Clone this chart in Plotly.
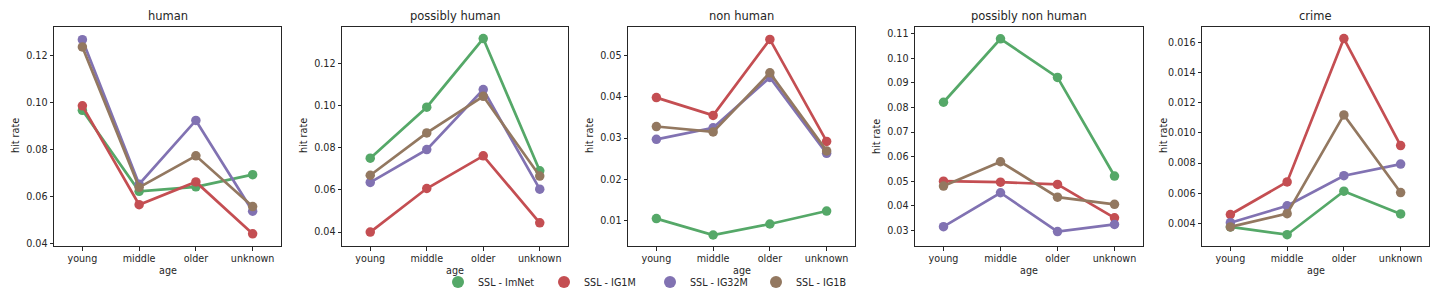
import plotly.graph_objects as go

ages = ["young", "middle", "older", "unknown"]
panels = ["human", "possibly human", "non human", "possibly non human", "crime"]
series = ["SSL - ImNet", "SSL - IG1M", "SSL - IG32M", "SSL - IG1B"]
colors = ["#55A868", "#C44E52", "#8172B2", "#937860"]

# hit rate values per panel, per series (young, middle, older, unknown)
human = {
    "SSL - ImNet": [0.0967, 0.0622, 0.0641, 0.0693],
    "SSL - IG1M": [0.0986, 0.0565, 0.0662, 0.0441],
    "SSL - IG32M": [0.1268, 0.0652, 0.0924, 0.0537],
    "SSL - IG1B": [0.1237, 0.0639, 0.0773, 0.0557],
}
possibly_human = {
    "SSL - ImNet": [0.0751, 0.0993, 0.1319, 0.0691],
    "SSL - IG1M": [0.0400, 0.0607, 0.0762, 0.0444],
    "SSL - IG32M": [0.0636, 0.0792, 0.1077, 0.0604],
    "SSL - IG1B": [0.0670, 0.0871, 0.1045, 0.0666],
}
non_human = {
    "SSL - ImNet": [0.0105, 0.00653, 0.0092, 0.01234],
    "SSL - IG1M": [0.0398, 0.0355, 0.0539, 0.0292],
    "SSL - IG32M": [0.0297, 0.0325, 0.0447, 0.0263],
    "SSL - IG1B": [0.0328, 0.0315, 0.0458, 0.0269],
}
possibly_non_human = {
    "SSL - ImNet": [0.0821, 0.1079, 0.0922, 0.0521],
    "SSL - IG1M": [0.0500, 0.0496, 0.0487, 0.0351],
    "SSL - IG32M": [0.0315, 0.0453, 0.0295, 0.0324],
    "SSL - IG1B": [0.0480, 0.0579, 0.0435, 0.0406],
}
crime = {
    "SSL - ImNet": [0.00376, 0.00324, 0.00613, 0.00462],
    "SSL - IG1M": [0.00458, 0.00675, 0.01627, 0.00916],
    "SSL - IG32M": [0.00404, 0.00516, 0.00716, 0.00793],
    "SSL - IG1B": [0.00376, 0.00464, 0.0112, 0.00604],
}
panel_data = [human, possibly_human, non_human, possibly_non_human, crime]

# layout (pixels)
W, H = 1440, 288
lefts = [54, 342, 628, 915, 1202]
rights = [281, 568, 855, 1143, 1429]
top, bottom = 27, 246
yranges = [
    [0.0389, 0.1322],
    [0.0334, 0.1374],
    [0.00387, 0.0569],
    [0.02364, 0.1127],
    [0.00249, 0.01704],
]
ydtick = [0.02, 0.02, 0.01, 0.01, 0.002]
ytickfmt = [".2f", ".2f", ".2f", ".2f", ".3f"]

FONT = "DejaVu Sans"
TXT = "#262626"
FS = 9.6

fig = go.Figure()
layout = dict(
    width=W, height=H,
    margin=dict(l=0, r=0, t=0, b=0, autoexpand=False),
    paper_bgcolor="white", plot_bgcolor="white",
    font=dict(family=FONT, size=FS, color=TXT),
    showlegend=True,
    legend=dict(orientation="h", x=438 / W, xanchor="left", y=1 - 282 / H, yanchor="middle",
                font=dict(size=FS, family=FONT, color=TXT), entrywidth=61,
                bgcolor="rgba(0,0,0,0)", itemsizing="constant"),
)
annotations = []
for i, (name, data) in enumerate(zip(panels, panel_data)):
    xa = "xaxis" if i == 0 else f"xaxis{i+1}"
    ya = "yaxis" if i == 0 else f"yaxis{i+1}"
    xref = "x" if i == 0 else f"x{i+1}"
    yref = "y" if i == 0 else f"y{i+1}"
    layout[xa] = dict(
        domain=[lefts[i] / W, rights[i] / W], anchor=yref, automargin=False,
        type="category", categoryorder="array", categoryarray=ages,
        range=[-0.5, 3.5], showgrid=False, zeroline=False,
        showline=True, mirror=True, linecolor=TXT, linewidth=1,
        ticks="outside", ticklen=3.5, tickwidth=1, tickcolor=TXT,
        tickfont=dict(size=FS, family=FONT, color=TXT),
    )
    layout[ya] = dict(
        domain=[1 - bottom / H, 1 - top / H], anchor=xref, automargin=False,
        range=yranges[i], dtick=ydtick[i], tick0=0, tickformat=ytickfmt[i],
        showgrid=False, zeroline=False,
        showline=True, mirror=True, linecolor=TXT, linewidth=1,
        ticks="outside", ticklen=3.5, tickwidth=1, tickcolor=TXT,
        tickfont=dict(size=FS, family=FONT, color=TXT),
    )
    for s, c in zip(series, colors):
        fig.add_trace(go.Scatter(
            x=ages, y=data[s], xaxis=xref, yaxis=yref,
            mode="lines+markers", name=s, showlegend=False,
            line=dict(color=c, width=2.7),
            marker=dict(color=c, size=9.5),
        ))
    cx = (lefts[i] + rights[i]) / 2 / W
    annotations.append(dict(text=name, x=cx, y=1 - 16 / H, xref="paper", yref="paper",
                            xanchor="center", yanchor="middle", showarrow=False,
                            font=dict(size=11.5, family=FONT, color=TXT)))
    annotations.append(dict(text="age", x=cx, y=1 - 270 / H, xref="paper", yref="paper",
                            xanchor="center", yanchor="middle", showarrow=False,
                            font=dict(size=FS, family=FONT, color=TXT)))
    annotations.append(dict(text="hit rate", x=(lefts[i] - 39) / W, y=1 - 136 / H,
                            xref="paper", yref="paper", textangle=-90,
                            xanchor="center", yanchor="middle", showarrow=False,
                            font=dict(size=FS, family=FONT, color=TXT)))

for s, c in zip(series, colors):
    fig.add_trace(go.Scatter(
        x=[None], y=[None], mode="markers", name=s, showlegend=True,
        marker=dict(color=c, size=9.5),
    ))

layout["annotations"] = annotations
fig.update_layout(**layout)
fig.write_html(
    "out.html",
    config={"displayModeBar": False},
    post_script="document.body.style.margin='0';document.body.style.overflow='hidden';",
)
